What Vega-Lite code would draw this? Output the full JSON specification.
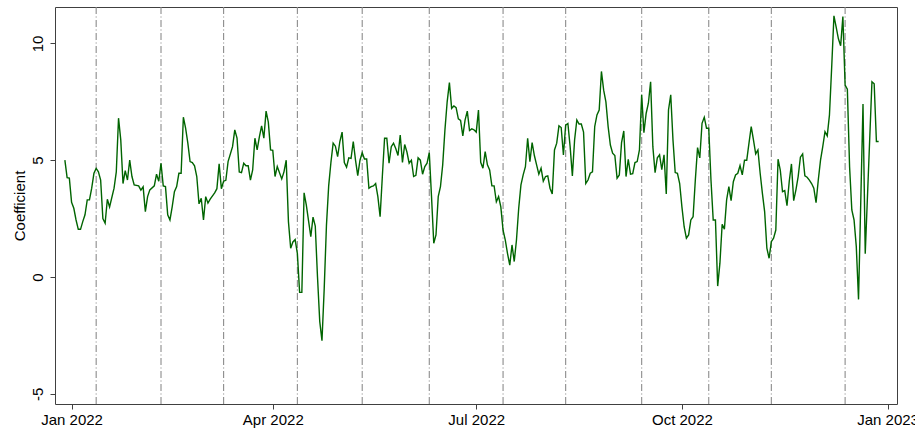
{
  "$schema": "https://vega.github.io/schema/vega-lite/v6.json",
  "autosize": {"type": "none"},
  "padding": {"left": 55, "top": 7, "right": 18, "bottom": 30},
  "width": 842,
  "height": 397,
  "background": "white",
  "config": {
    "view": {"stroke": "#404040", "strokeWidth": 1},
    "font": "Liberation Sans",
    "axis": {"domain": false, "grid": false, "tickColor": "#404040", "tickSize": 5, "labelFont": "Liberation Sans", "labelFontSize": 15, "labelColor": "black", "titleFont": "Liberation Sans", "titleFontSize": 15, "titleFontWeight": "normal", "titleColor": "black"}
  },
  "datasets": {
    "series": [
      {"d":"2021-12-29","v":5.0},{"d":"2021-12-30","v":4.25},{"d":"2021-12-31","v":4.23},
      {"d":"2022-01-01","v":3.2},{"d":"2022-01-02","v":2.94},{"d":"2022-01-03","v":2.44},{"d":"2022-01-04","v":2.04},{"d":"2022-01-05","v":2.04},{"d":"2022-01-06","v":2.37},{"d":"2022-01-07","v":2.66},{"d":"2022-01-08","v":3.3},{"d":"2022-01-09","v":3.3},{"d":"2022-01-10","v":3.8},{"d":"2022-01-11","v":4.44},{"d":"2022-01-12","v":4.65},{"d":"2022-01-13","v":4.5},{"d":"2022-01-14","v":4.15},{"d":"2022-01-15","v":2.5},{"d":"2022-01-16","v":2.3},{"d":"2022-01-17","v":3.33},{"d":"2022-01-18","v":3.0},{"d":"2022-01-20","v":3.8},{"d":"2022-01-21","v":4.5},{"d":"2022-01-22","v":6.8},{"d":"2022-01-23","v":5.87},{"d":"2022-01-24","v":4.0},{"d":"2022-01-25","v":4.55},{"d":"2022-01-26","v":4.15},{"d":"2022-01-27","v":5.0},{"d":"2022-01-28","v":4.3},{"d":"2022-01-29","v":3.94},{"d":"2022-01-31","v":3.9},
      {"d":"2022-02-01","v":3.72},{"d":"2022-02-02","v":3.86},{"d":"2022-02-03","v":2.8},{"d":"2022-02-04","v":3.44},{"d":"2022-02-05","v":3.73},{"d":"2022-02-07","v":3.9},{"d":"2022-02-08","v":4.4},{"d":"2022-02-09","v":4.1},{"d":"2022-02-10","v":4.87},{"d":"2022-02-11","v":3.9},{"d":"2022-02-12","v":3.87},{"d":"2022-02-13","v":2.66},{"d":"2022-02-14","v":2.44},{"d":"2022-02-15","v":3.0},{"d":"2022-02-16","v":3.65},{"d":"2022-02-17","v":3.87},{"d":"2022-02-18","v":4.44},{"d":"2022-02-19","v":4.44},{"d":"2022-02-20","v":6.84},{"d":"2022-02-21","v":6.37},{"d":"2022-02-22","v":5.73},{"d":"2022-02-23","v":4.94},{"d":"2022-02-24","v":4.9},{"d":"2022-02-25","v":4.76},{"d":"2022-02-26","v":4.3},{"d":"2022-02-27","v":3.13},{"d":"2022-02-28","v":3.37},
      {"d":"2022-03-01","v":2.44},{"d":"2022-03-02","v":3.44},{"d":"2022-03-03","v":3.16},{"d":"2022-03-04","v":3.33},{"d":"2022-03-06","v":3.6},{"d":"2022-03-07","v":3.78},{"d":"2022-03-08","v":4.84},{"d":"2022-03-09","v":3.78},{"d":"2022-03-10","v":4.1},{"d":"2022-03-11","v":4.14},{"d":"2022-03-12","v":4.94},{"d":"2022-03-14","v":5.58},{"d":"2022-03-15","v":6.3},{"d":"2022-03-16","v":5.95},{"d":"2022-03-17","v":4.5},{"d":"2022-03-18","v":4.47},{"d":"2022-03-19","v":4.87},{"d":"2022-03-20","v":4.76},{"d":"2022-03-21","v":4.76},{"d":"2022-03-22","v":4.15},{"d":"2022-03-23","v":4.58},{"d":"2022-03-24","v":5.94},{"d":"2022-03-25","v":5.44},{"d":"2022-03-26","v":6.0},{"d":"2022-03-27","v":6.47},{"d":"2022-03-28","v":5.94},{"d":"2022-03-29","v":7.1},{"d":"2022-03-30","v":6.63},{"d":"2022-03-31","v":5.44},
      {"d":"2022-04-01","v":5.42},{"d":"2022-04-02","v":4.3},{"d":"2022-04-03","v":4.73},{"d":"2022-04-05","v":4.2},{"d":"2022-04-06","v":4.5},{"d":"2022-04-07","v":5.0},{"d":"2022-04-08","v":2.37},{"d":"2022-04-09","v":1.23},{"d":"2022-04-10","v":1.5},{"d":"2022-04-11","v":1.6},{"d":"2022-04-12","v":1.0},{"d":"2022-04-13","v":-0.66},{"d":"2022-04-14","v":-0.66},{"d":"2022-04-15","v":3.6},{"d":"2022-04-16","v":3.08},{"d":"2022-04-18","v":1.73},{"d":"2022-04-19","v":2.56},{"d":"2022-04-20","v":2.18},{"d":"2022-04-21","v":0.0},{"d":"2022-04-22","v":-1.9},{"d":"2022-04-23","v":-2.73},{"d":"2022-04-24","v":-0.5},{"d":"2022-04-25","v":2.2},{"d":"2022-04-26","v":3.9},{"d":"2022-04-27","v":4.9},{"d":"2022-04-28","v":5.73},{"d":"2022-04-29","v":5.6},{"d":"2022-04-30","v":5.15},
      {"d":"2022-05-01","v":5.8},{"d":"2022-05-02","v":6.2},{"d":"2022-05-03","v":4.9},{"d":"2022-05-04","v":4.7},{"d":"2022-05-05","v":5.1},{"d":"2022-05-06","v":5.08},{"d":"2022-05-07","v":5.8},{"d":"2022-05-08","v":5.0},{"d":"2022-05-09","v":4.34},{"d":"2022-05-10","v":5.0},{"d":"2022-05-11","v":5.32},{"d":"2022-05-12","v":5.05},{"d":"2022-05-13","v":5.05},{"d":"2022-05-14","v":3.8},{"d":"2022-05-15","v":3.87},{"d":"2022-05-16","v":3.9},{"d":"2022-05-17","v":4.0},{"d":"2022-05-18","v":3.44},{"d":"2022-05-19","v":2.58},{"d":"2022-05-20","v":4.3},{"d":"2022-05-21","v":5.94},{"d":"2022-05-22","v":5.94},{"d":"2022-05-23","v":4.87},{"d":"2022-05-24","v":5.58},{"d":"2022-05-25","v":5.73},{"d":"2022-05-26","v":5.5},{"d":"2022-05-27","v":5.2},{"d":"2022-05-28","v":6.08},{"d":"2022-05-29","v":4.9},{"d":"2022-05-30","v":5.67},{"d":"2022-05-31","v":5.35},
      {"d":"2022-06-01","v":4.87},{"d":"2022-06-02","v":5.0},{"d":"2022-06-03","v":4.3},{"d":"2022-06-04","v":4.35},{"d":"2022-06-05","v":5.1},{"d":"2022-06-06","v":5.0},{"d":"2022-06-07","v":4.4},{"d":"2022-06-08","v":4.73},{"d":"2022-06-09","v":4.87},{"d":"2022-06-10","v":5.32},{"d":"2022-06-11","v":3.44},{"d":"2022-06-12","v":1.44},{"d":"2022-06-13","v":1.8},{"d":"2022-06-14","v":3.44},{"d":"2022-06-15","v":3.87},{"d":"2022-06-16","v":4.8},{"d":"2022-06-17","v":6.3},{"d":"2022-06-18","v":7.5},{"d":"2022-06-19","v":8.32},{"d":"2022-06-20","v":7.22},{"d":"2022-06-21","v":7.32},{"d":"2022-06-22","v":7.25},{"d":"2022-06-23","v":6.77},{"d":"2022-06-24","v":6.7},{"d":"2022-06-25","v":6.04},{"d":"2022-06-26","v":6.72},{"d":"2022-06-27","v":7.1},{"d":"2022-06-28","v":6.27},{"d":"2022-06-29","v":6.34},{"d":"2022-06-30","v":6.3},
      {"d":"2022-07-01","v":6.2},{"d":"2022-07-02","v":7.15},{"d":"2022-07-03","v":4.91},{"d":"2022-07-04","v":4.66},{"d":"2022-07-05","v":5.37},{"d":"2022-07-06","v":4.8},{"d":"2022-07-07","v":4.58},{"d":"2022-07-08","v":3.9},{"d":"2022-07-09","v":3.9},{"d":"2022-07-10","v":3.22},{"d":"2022-07-11","v":3.44},{"d":"2022-07-12","v":3.0},{"d":"2022-07-13","v":2.0},{"d":"2022-07-14","v":1.58},{"d":"2022-07-15","v":1.0},{"d":"2022-07-16","v":0.51},{"d":"2022-07-17","v":1.37},{"d":"2022-07-18","v":0.66},{"d":"2022-07-19","v":1.58},{"d":"2022-07-20","v":2.94},{"d":"2022-07-21","v":3.94},{"d":"2022-07-22","v":4.37},{"d":"2022-07-23","v":4.72},{"d":"2022-07-24","v":5.94},{"d":"2022-07-25","v":4.94},{"d":"2022-07-26","v":5.75},{"d":"2022-07-27","v":5.2},{"d":"2022-07-28","v":4.8},{"d":"2022-07-29","v":4.4},{"d":"2022-07-30","v":4.66},{"d":"2022-07-31","v":4.1},
      {"d":"2022-08-01","v":4.3},{"d":"2022-08-02","v":4.33},{"d":"2022-08-03","v":3.8},{"d":"2022-08-04","v":3.55},{"d":"2022-08-05","v":5.44},{"d":"2022-08-06","v":5.73},{"d":"2022-08-07","v":6.47},{"d":"2022-08-08","v":6.4},{"d":"2022-08-09","v":5.22},{"d":"2022-08-10","v":6.5},{"d":"2022-08-11","v":6.57},{"d":"2022-08-12","v":5.58},{"d":"2022-08-13","v":4.33},{"d":"2022-08-14","v":5.87},{"d":"2022-08-15","v":6.72},{"d":"2022-08-16","v":6.55},{"d":"2022-08-17","v":6.55},{"d":"2022-08-18","v":6.2},{"d":"2022-08-19","v":4.0},{"d":"2022-08-20","v":4.15},{"d":"2022-08-21","v":4.44},{"d":"2022-08-22","v":4.5},{"d":"2022-08-23","v":6.44},{"d":"2022-08-24","v":6.94},{"d":"2022-08-25","v":7.15},{"d":"2022-08-26","v":8.8},{"d":"2022-08-27","v":8.0},{"d":"2022-08-28","v":7.5},{"d":"2022-08-29","v":6.44},{"d":"2022-08-30","v":5.65},{"d":"2022-08-31","v":5.3},
      {"d":"2022-09-01","v":5.2},{"d":"2022-09-02","v":4.23},{"d":"2022-09-03","v":4.37},{"d":"2022-09-04","v":5.75},{"d":"2022-09-05","v":6.25},{"d":"2022-09-06","v":4.3},{"d":"2022-09-07","v":5.04},{"d":"2022-09-08","v":4.4},{"d":"2022-09-09","v":4.42},{"d":"2022-09-10","v":4.9},{"d":"2022-09-11","v":4.94},{"d":"2022-09-12","v":5.44},{"d":"2022-09-13","v":7.8},{"d":"2022-09-14","v":6.18},{"d":"2022-09-15","v":7.0},{"d":"2022-09-16","v":7.44},{"d":"2022-09-17","v":8.36},{"d":"2022-09-18","v":5.58},{"d":"2022-09-19","v":4.47},{"d":"2022-09-20","v":5.1},{"d":"2022-09-21","v":5.23},{"d":"2022-09-22","v":4.6},{"d":"2022-09-23","v":5.23},{"d":"2022-09-24","v":3.55},{"d":"2022-09-25","v":7.15},{"d":"2022-09-26","v":7.8},{"d":"2022-09-27","v":5.87},{"d":"2022-09-28","v":4.47},{"d":"2022-09-29","v":4.44},{"d":"2022-09-30","v":4.0},
      {"d":"2022-10-01","v":3.0},{"d":"2022-10-02","v":2.15},{"d":"2022-10-03","v":1.66},{"d":"2022-10-04","v":1.8},{"d":"2022-10-05","v":2.44},{"d":"2022-10-06","v":2.58},{"d":"2022-10-07","v":4.15},{"d":"2022-10-08","v":5.54},{"d":"2022-10-09","v":5.1},{"d":"2022-10-10","v":6.58},{"d":"2022-10-11","v":6.84},{"d":"2022-10-12","v":6.37},{"d":"2022-10-13","v":6.37},{"d":"2022-10-14","v":4.15},{"d":"2022-10-15","v":2.44},{"d":"2022-10-16","v":2.44},{"d":"2022-10-17","v":-0.39},{"d":"2022-10-18","v":0.59},{"d":"2022-10-19","v":2.26},{"d":"2022-10-20","v":2.05},{"d":"2022-10-21","v":3.3},{"d":"2022-10-22","v":3.87},{"d":"2022-10-23","v":3.27},{"d":"2022-10-24","v":4.08},{"d":"2022-10-25","v":4.37},{"d":"2022-10-26","v":4.44},{"d":"2022-10-27","v":4.77},{"d":"2022-10-28","v":4.37},{"d":"2022-10-29","v":5.0},{"d":"2022-10-30","v":5.0},{"d":"2022-10-31","v":5.73},
      {"d":"2022-11-01","v":6.44},{"d":"2022-11-02","v":5.87},{"d":"2022-11-03","v":5.27},{"d":"2022-11-04","v":5.44},{"d":"2022-11-05","v":4.44},{"d":"2022-11-06","v":3.58},{"d":"2022-11-07","v":2.8},{"d":"2022-11-08","v":1.23},{"d":"2022-11-09","v":0.8},{"d":"2022-11-10","v":1.51},{"d":"2022-11-11","v":1.66},{"d":"2022-11-12","v":2.01},{"d":"2022-11-13","v":5.04},{"d":"2022-11-14","v":4.58},{"d":"2022-11-15","v":3.65},{"d":"2022-11-16","v":3.7},{"d":"2022-11-17","v":3.05},{"d":"2022-11-18","v":4.08},{"d":"2022-11-19","v":4.84},{"d":"2022-11-20","v":3.27},{"d":"2022-11-21","v":3.73},{"d":"2022-11-22","v":4.3},{"d":"2022-11-23","v":5.13},{"d":"2022-11-24","v":5.27},{"d":"2022-11-25","v":4.33},{"d":"2022-11-26","v":4.27},{"d":"2022-11-27","v":4.15},{"d":"2022-11-28","v":4.0},{"d":"2022-11-29","v":3.8},{"d":"2022-11-30","v":3.18},
      {"d":"2022-12-01","v":4.15},{"d":"2022-12-02","v":5.0},{"d":"2022-12-03","v":5.58},{"d":"2022-12-04","v":6.22},{"d":"2022-12-05","v":6.04},{"d":"2022-12-06","v":6.94},{"d":"2022-12-07","v":9.0},{"d":"2022-12-08","v":11.18},{"d":"2022-12-09","v":10.7},{"d":"2022-12-10","v":10.2},{"d":"2022-12-11","v":9.9},{"d":"2022-12-12","v":11.15},{"d":"2022-12-13","v":8.22},{"d":"2022-12-14","v":8.04},{"d":"2022-12-15","v":4.72},{"d":"2022-12-16","v":2.87},{"d":"2022-12-17","v":2.44},{"d":"2022-12-18","v":1.3},{"d":"2022-12-19","v":-0.96},{"d":"2022-12-21","v":7.41},{"d":"2022-12-22","v":0.99},{"d":"2022-12-25","v":8.36},{"d":"2022-12-26","v":8.27},{"d":"2022-12-27","v":5.8},{"d":"2022-12-28","v":5.8}
    ],
    "cpi": [
      {"d":"2022-01-12"},{"d":"2022-02-10"},{"d":"2022-03-10"},{"d":"2022-04-12"},{"d":"2022-05-11"},{"d":"2022-06-10"},{"d":"2022-07-13"},{"d":"2022-08-10"},{"d":"2022-09-13"},{"d":"2022-10-13"},{"d":"2022-11-10"},{"d":"2022-12-13"}
    ]
  },
  "layer": [
    {
      "data": {"name": "cpi"},
      "mark": {"type": "rule", "color": "#8c8c8c", "strokeWidth": 1.1, "strokeDash": [7, 2.5, 1, 2.5]},
      "encoding": {
        "x": {"field": "d", "type": "temporal"}
      }
    },
    {
      "data": {"name": "series"},
      "mark": {"type": "line", "color": "#006400", "strokeWidth": 1.4, "clip": true},
      "encoding": {
        "x": {
          "field": "d", "type": "temporal",
          "scale": {"type": "utc", "domain": [{"year": 2021, "month": 12, "date": 24, "hours": 14, "utc": true}, {"year": 2023, "month": 1, "date": 5, "hours": 5, "utc": true}], "nice": false},
          "axis": {
            "title": null,
            "values": [{"year": 2022, "month": 1, "date": 1, "utc": true}, {"year": 2022, "month": 4, "date": 1, "utc": true}, {"year": 2022, "month": 7, "date": 1, "utc": true}, {"year": 2022, "month": 10, "date": 1, "utc": true}, {"year": 2023, "month": 1, "date": 1, "utc": true}],
            "format": "%b %Y",
            "labelFlush": false,
            "labelOverlap": false,
            "labelPadding": 3,
            "labelBaseline": "top"
          }
        },
        "y": {
          "field": "v", "type": "quantitative",
          "scale": {"domain": [-5.44, 11.56], "nice": false, "zero": false},
          "axis": {
            "title": "Coefficient",
            "values": [-5, 0, 5, 10],
            "labelExpr": "datum.value < 0 ? '-' + abs(datum.value) : '' + datum.value",
            "labelAngle": 270,
            "labelAlign": "center",
            "labelBaseline": "bottom",
            "labelPadding": 5,
            "titleAngle": 270,
            "titleAlign": "center",
            "titleBaseline": "middle",
            "titleX": -36,
            "titleY": 198.5
          }
        }
      }
    }
  ]
}
